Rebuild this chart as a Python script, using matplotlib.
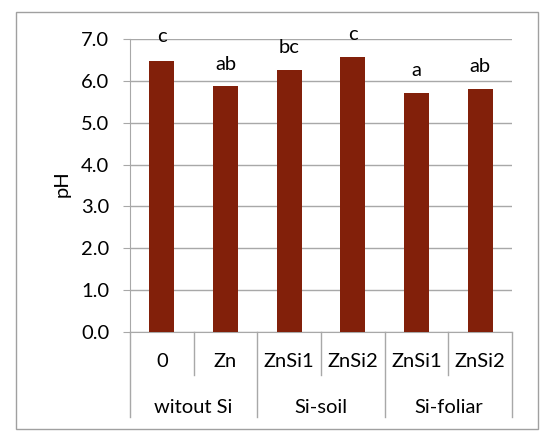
import matplotlib.pyplot as plt
from matplotlib.patches import Rectangle

# data
treatments = ["0", "Zn", "ZnSi1", "ZnSi2", "ZnSi1", "ZnSi2"]
groups = ["witout Si", "Si-soil", "Si-foliar"]
group_sizes = [2, 2, 2]
ph = [6.48, 5.88, 6.26, 6.56, 5.72, 5.80]
letters = ["c", "ab", "bc", "c", "a", "ab"]
letter_y = [6.92, 6.26, 6.66, 6.98, 6.12, 6.21]   # baselines of the letters

plt.rcParams['font.family'] = ['Lato', 'DejaVu Sans']
bar_color = "#82200a"
grid_color = "#a8a8a8"
fs = 14.5

fig = plt.figure(figsize=(5.5, 4.46), dpi=100)
ax = fig.add_axes([130 / 550, 1 - 332 / 446, 382 / 550, 293 / 446])

x = list(range(len(ph)))
ax.bar(x, ph, width=0.39, color=bar_color, zorder=3)
for xi, lab, ly in zip(x, letters, letter_y):
    ax.text(xi, ly, lab, ha="center", va="baseline", fontsize=fs, zorder=4)

ax.set_xlim(-0.5, len(ph) - 0.5)
ax.set_ylim(0, 7)
ax.set_yticks([i * 1.0 for i in range(8)])
ax.set_yticklabels([f"{i:.1f}" for i in range(8)], fontsize=fs)
ax.yaxis.grid(True, color=grid_color, linewidth=1, zorder=0)
ax.tick_params(axis="y", length=5, color=grid_color, pad=10)
ax.tick_params(axis="x", length=0)
ax.set_xticks([])
for s in ["top", "right"]:
    ax.spines[s].set_visible(False)
ax.spines["left"].set_color(grid_color)
ax.spines["bottom"].set_color(grid_color)
ax.text(-0.178, 0.508, "pH", transform=ax.transAxes, rotation=90,
        ha="center", va="center", fontsize=fs)

# multi-level category axis
tr = ax.get_xaxis_transform()
for xi, t in zip(x, treatments):
    ax.text(xi, -0.1195, t, transform=tr, ha="center", va="baseline", fontsize=fs)
start = 0
bounds = [-0.5]
for g, n in zip(groups, group_sizes):
    ax.text(start + (n - 1) / 2, -0.2765, g, transform=tr, ha="center",
            va="baseline", fontsize=fs)
    for k in range(1, n):
        b = start + k - 0.5
        ax.plot([b, b], [0, -0.147], transform=tr, color=grid_color,
                linewidth=1, clip_on=False)
    start += n
    bounds.append(start - 0.5)
for b in bounds:
    ax.plot([b, b], [0, -0.29], transform=tr, color=grid_color,
            linewidth=1, clip_on=False)

# outer chart border
fig.patches.append(Rectangle((16 / 550, 1 - 429 / 446), 522 / 550, 417 / 446,
                             transform=fig.transFigure, fill=False,
                             edgecolor="#a0a0a0", linewidth=1))

fig.savefig("out.png", dpi=100)
